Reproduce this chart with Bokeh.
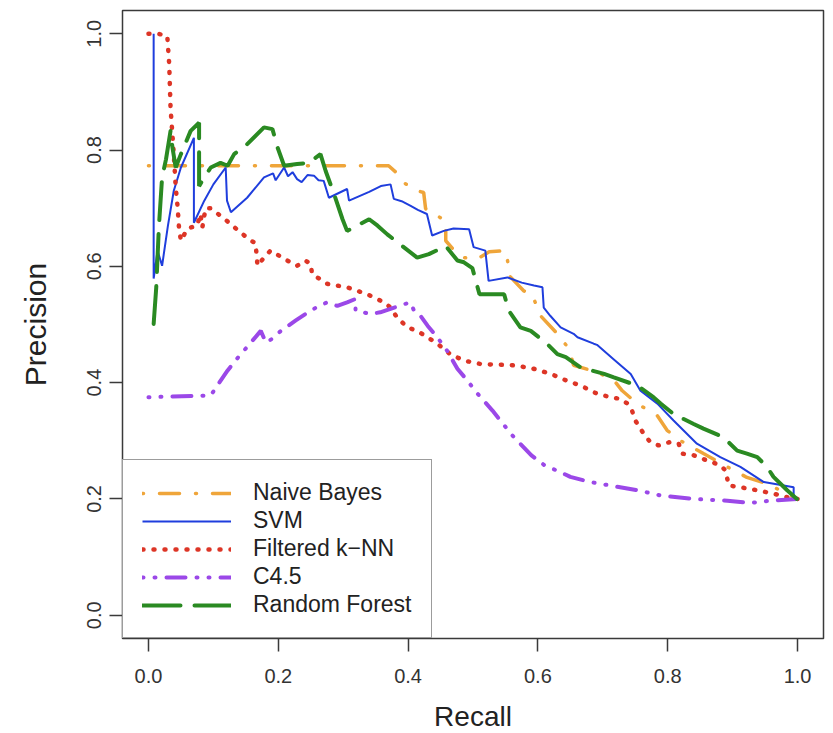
from bokeh.plotting import figure
from bokeh.models import Range1d, FixedTicker
from bokeh.embed import file_html
from bokeh.resources import INLINE

# ---------------- data ----------------
tick_values = [0.0, 0.2, 0.4, 0.6, 0.8, 1.0]
tick_labels = ["0.0", "0.2", "0.4", "0.6", "0.8", "1.0"]

nb_x = [0.0, 0.37, 0.383, 0.393, 0.414, 0.424, 0.427, 0.445, 0.458, 0.458, 0.476, 0.486, 0.507,
        0.525, 0.55, 0.555, 0.555, 0.578, 0.591, 0.604, 0.63, 0.648, 0.655, 0.691, 0.717, 0.73,
        0.753, 0.784, 0.799, 0.82, 0.855, 0.892, 0.922, 0.953, 1.0]
nb_y = [0.773, 0.773, 0.76, 0.744, 0.73, 0.727, 0.699, 0.687, 0.678, 0.644, 0.621, 0.615, 0.613,
        0.625, 0.627, 0.60, 0.585, 0.558, 0.552, 0.515, 0.484, 0.458, 0.43, 0.418, 0.404, 0.386,
        0.364, 0.343, 0.318, 0.30, 0.278, 0.255, 0.237, 0.226, 0.2]

svm_x = [0.008, 0.008, 0.014, 0.021, 0.03, 0.039, 0.05, 0.07, 0.07, 0.086, 0.10, 0.119, 0.121,
         0.127, 0.152, 0.178, 0.192, 0.196, 0.209, 0.215, 0.222, 0.229, 0.236, 0.245, 0.255,
         0.262, 0.27, 0.278, 0.306, 0.309, 0.34, 0.358, 0.373, 0.378, 0.39, 0.404, 0.415, 0.429,
         0.437, 0.455, 0.47, 0.494, 0.501, 0.519, 0.524, 0.553, 0.575, 0.594, 0.607, 0.609,
         0.619, 0.635, 0.655, 0.661, 0.686, 0.691, 0.717, 0.743, 0.758, 0.784, 0.809, 0.845,
         0.881, 0.912, 0.948, 0.994, 0.994, 1.0]
svm_y = [1.0, 0.579, 0.627, 0.601, 0.67, 0.73, 0.77, 0.821, 0.675, 0.713, 0.741, 0.77, 0.713,
         0.693, 0.718, 0.753, 0.76, 0.748, 0.77, 0.755, 0.762, 0.750, 0.745, 0.757, 0.756,
         0.748, 0.747, 0.718, 0.733, 0.713, 0.728, 0.738, 0.741, 0.716, 0.712, 0.704, 0.697, 0.69,
         0.653, 0.661, 0.665, 0.664, 0.633, 0.627, 0.575, 0.581, 0.572, 0.567, 0.564, 0.529,
         0.515, 0.495, 0.484, 0.478, 0.467, 0.465, 0.44, 0.415, 0.386, 0.364, 0.335, 0.295,
         0.272, 0.255, 0.229, 0.22, 0.203, 0.2]

knn_x = [0.0, 0.015, 0.029, 0.032, 0.034, 0.039, 0.042, 0.045, 0.047, 0.05, 0.06, 0.075, 0.08,
         0.083, 0.088, 0.096, 0.121, 0.142, 0.158, 0.165, 0.168, 0.178, 0.188, 0.214, 0.229,
         0.242, 0.25, 0.252, 0.275, 0.306, 0.337, 0.363, 0.373, 0.383, 0.399, 0.414, 0.43, 0.445,
         0.465, 0.486, 0.512, 0.56, 0.59, 0.62, 0.643, 0.666, 0.691, 0.712, 0.727, 0.738, 0.745,
         0.75, 0.763, 0.773, 0.786, 0.804, 0.817, 0.822, 0.84, 0.861, 0.881, 0.889, 0.894, 0.912,
         0.938, 0.963, 0.984, 1.0]
knn_y = [1.0, 1.0, 0.996, 0.947, 0.873, 0.793, 0.736, 0.701, 0.667, 0.644, 0.665, 0.67, 0.69,
         0.667, 0.70, 0.70, 0.678, 0.658, 0.644, 0.64, 0.601, 0.615, 0.627, 0.61, 0.601,
         0.61, 0.604, 0.587, 0.57, 0.564, 0.552, 0.538, 0.529, 0.512, 0.495, 0.489, 0.478, 0.467,
         0.449, 0.438, 0.432, 0.43, 0.425, 0.415, 0.404, 0.395, 0.381, 0.375, 0.372, 0.364, 0.352,
         0.335, 0.312, 0.298, 0.292, 0.298, 0.295, 0.278, 0.275, 0.266, 0.258, 0.249, 0.223, 0.22,
         0.215, 0.209, 0.203, 0.2]

c45_x = [0.0, 0.096, 0.106, 0.122, 0.134, 0.147, 0.16, 0.173, 0.181, 0.19, 0.204, 0.227, 0.242,
         0.258, 0.275, 0.291, 0.306, 0.319, 0.319, 0.342, 0.357, 0.394, 0.404, 0.409, 0.419, 0.43,
         0.445, 0.46, 0.476, 0.491, 0.507, 0.53, 0.56, 0.59, 0.61, 0.635, 0.65, 0.681, 0.712,
         0.753, 0.789, 0.84, 0.892, 0.927, 0.958, 1.0]
c45_y = [0.375, 0.378, 0.395, 0.421, 0.438, 0.455, 0.472, 0.489, 0.469, 0.475, 0.489, 0.507, 0.518,
         0.529, 0.538, 0.532, 0.538, 0.544, 0.524, 0.518, 0.521, 0.535, 0.538, 0.524, 0.515, 0.498,
         0.478, 0.455, 0.424, 0.404, 0.381, 0.352, 0.31, 0.275, 0.258, 0.246, 0.238, 0.229, 0.223,
         0.215, 0.206, 0.2, 0.197, 0.193, 0.197, 0.2]

rf_x = [0.008, 0.012, 0.016, 0.021, 0.027, 0.034, 0.037, 0.042, 0.05, 0.065, 0.078, 0.078, 0.086,
        0.096, 0.111, 0.122, 0.132, 0.152, 0.178, 0.191, 0.199, 0.209, 0.229, 0.247, 0.265, 0.273,
        0.286, 0.299, 0.306, 0.34, 0.353, 0.368, 0.414, 0.432, 0.458, 0.476, 0.486, 0.499, 0.51,
        0.548, 0.555, 0.573, 0.589, 0.614, 0.63, 0.643, 0.666, 0.702, 0.717, 0.753, 0.778, 0.789,
        0.809, 0.84, 0.855, 0.886, 0.907, 0.922, 0.938, 0.953, 0.963, 0.984, 1.0]
rf_y = [0.501, 0.564, 0.667, 0.753, 0.784, 0.833, 0.804, 0.77, 0.793, 0.833, 0.847, 0.738, 0.753,
        0.77, 0.778, 0.773, 0.793, 0.81, 0.839, 0.836, 0.804, 0.773, 0.776, 0.778, 0.793, 0.764,
        0.724, 0.681, 0.661, 0.681, 0.67, 0.655, 0.615, 0.621, 0.635, 0.61, 0.607, 0.597, 0.552,
        0.552, 0.524, 0.495, 0.489, 0.467, 0.449, 0.444, 0.426, 0.415, 0.409, 0.395, 0.375, 0.364,
        0.346, 0.329, 0.321, 0.306, 0.283, 0.278, 0.272, 0.255, 0.238, 0.215, 0.199]

# ---------------- figure ----------------
FONT = "Liberation Sans"
p = figure(frame_width=701, frame_height=628,
           x_range=Range1d(-0.04, 1.04), y_range=Range1d(-0.04, 1.04),
           output_backend="svg", toolbar_location=None,
           min_border_left=122, min_border_right=2, min_border_top=10, min_border_bottom=85,
           background_fill_color="white", border_fill_color="white")
p.grid.visible = False
p.outline_line_color = "#3a3a3a"
p.outline_line_width = 1.5

p.xaxis.axis_label = "Recall"
p.yaxis.axis_label = "Precision"
for ax in (p.xaxis, p.yaxis):
    ax.ticker = FixedTicker(ticks=tick_values)
    ax.major_label_overrides = {v: l for v, l in zip(tick_values, tick_labels)}
    ax.axis_line_color = None
    ax.major_tick_line_color = "#3a3a3a"
    ax.major_tick_line_width = 1.5
    ax.major_tick_out = 13
    ax.major_tick_in = 0
    ax.minor_tick_line_color = None
    ax.major_label_text_font = FONT
    ax.major_label_text_font_size = "20px"
    ax.major_label_text_color = "#333333"
    ax.axis_label_text_font = FONT
    ax.axis_label_text_font_style = "normal"
    ax.axis_label_text_color = "#222222"
p.xaxis.axis_label_text_font_size = "28px"
p.yaxis.axis_label_text_font_size = "30px"
p.yaxis.major_label_orientation = "vertical"
p.xaxis.major_label_standoff = 17
p.yaxis.major_label_standoff = 8
p.xaxis.axis_label_standoff = 15
p.yaxis.axis_label_standoff = 33

p.line(nb_x, nb_y, line_color="#EFA53A", line_width=3.5, line_dash="1 16 20 16",
       line_cap="round", legend_label="Naive Bayes")
p.line(svm_x, svm_y, line_color="#1F3EDD", line_width=2.0, legend_label="SVM")
p.line(knn_x, knn_y, line_color="#DD3526", line_width=4.5, line_dash="1 10",
       line_cap="round", legend_label="Filtered k\u2212NN")
p.line(c45_x, c45_y, line_color="#9B48E8", line_width=4.0, line_dash="1 11 1 11 19 11",
       line_cap="round", legend_label="C4.5")
p.line(rf_x, rf_y, line_color="#2A8A22", line_width=4.0, line_dash="38 14",
       line_cap="round", legend_label="Random Forest")

lg = p.legend[0]
lg.location = (0, 0)
lg.margin = 0
lg.padding = 19
lg.spacing = 1
lg.glyph_width = 89
lg.glyph_height = 20
lg.label_height = 20
lg.label_standoff = 22
lg.label_text_font = FONT
lg.label_text_font_size = "23px"
lg.label_text_color = "#222222"
lg.border_line_color = "#3a3a3a"
lg.border_line_width = 1.5
lg.background_fill_alpha = 1.0

open("out.html", "w").write(file_html(p, INLINE))
